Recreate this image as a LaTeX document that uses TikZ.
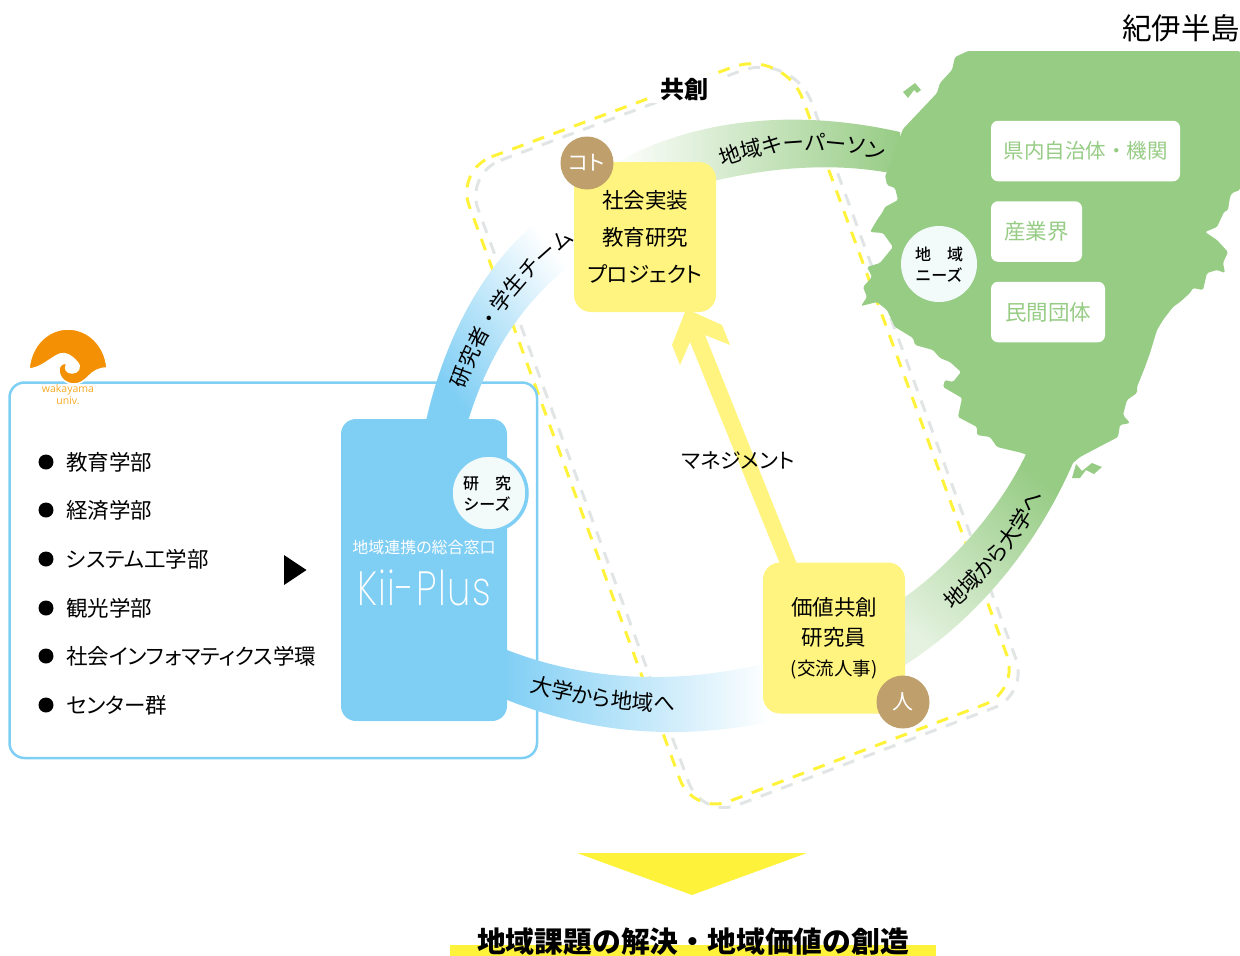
\documentclass[tikz,border=0pt]{standalone}
\usepackage{fontspec}
\setmainfont{Noto Sans CJK JP}[RawFeature=+palt]
\newfontfamily\fullfont{Noto Sans CJK JP}
\newfontfamily\medfont{Noto Sans CJK JP Medium}
\newfontfamily\kiifont{Poppins ExtraLight}[FakeStretch=0.78, LetterSpace=3]
\newfontfamily\logofont{Open Sans}
\usepackage{tikz}
\usetikzlibrary{decorations.text}

\definecolor{kiiblue}{HTML}{7FCEF4}
\definecolor{mapgreen}{HTML}{97CC85}
\definecolor{boxyellow}{HTML}{FFF480}
\definecolor{brightyellow}{HTML}{FFF23A}
\definecolor{loopgray}{HTML}{E1E5E5}
\definecolor{coinbrown}{HTML}{BF9F6B}
\definecolor{seedwhite}{HTML}{F2FAFA}
\definecolor{logoorange}{HTML}{F39003}
\definecolor{logotext}{HTML}{F7A823}

\newcommand{\bandfont}{\fontsize{21.5}{21.5}\selectfont}

\tikzset{
	yellowbox/.style={fill=boxyellow, rounded corners=17pt, minimum width=142pt, inner sep=0pt, align=center},
	coin/.style={circle, fill=coinbrown, minimum size=53pt, inner sep=0pt, text=white, font=\fontsize{21}{21}\selectfont},
	seedcircle/.style={circle, fill=seedwhite, inner sep=0pt, minimum size=76pt},
	seedlabel/.style={inner sep=0pt, align=center, font=\fontsize{16}{21}\medfont},
	mapbox/.style={fill=white, rounded corners=7pt, inner sep=0pt, minimum height=60.5pt, text=mapgreen, font=\fontsize{21.5}{21.5}\selectfont},
	deptdot/.style={circle, fill=black, minimum size=15pt, inner sep=0pt},
	deptlabel/.style={anchor=west, inner sep=0pt, font=\fontsize{21.5}{21.5}\selectfont},
	looppath/.style={line width=3pt, dash pattern=on 12pt off 10pt, rounded corners=38pt},
	bandlabel/.style={decorate, decoration={text along path, text align=center}}
}

\begin{document}
\begin{tikzpicture}[x=1pt, y=-1pt]
	\useasboundingbox (0,0) rectangle (1240,956);
	
	% Dashed co-creation loop
	\draw[looppath, loopgray] (465,173.5) [rounded corners=55pt] -- (793,51.5) [rounded corners=38pt] -- (1029,694.5) -- (702,818.5) -- cycle;
	\draw[looppath, brightyellow] (456,170) [rounded corners=55pt] -- (784,48) [rounded corners=38pt] -- (1020,691) -- (693,815) -- cycle;
	
	% University frame
	\draw[kiiblue, line width=2.5pt, rounded corners=15pt] (9.5,382.5) rectangle (537,758);
	
	% Curved bands
	\shade[left color=kiiblue, middle color=kiiblue!50!white, right color=white, shading angle=130]
	(426,421) .. controls (443,345) and (480,265) .. (545,215) -- (573,263) .. controls (525,300) and (490,350) .. (468,421) -- cycle;
	\shade[left color=white, middle color=mapgreen!80!white, right color=mapgreen]
	(612,165) .. controls (680,125) and (780,105) .. (900,132) -- (900,175) .. controls (840,162) and (770,165) .. (690,187) -- cycle;
	\shade[left color=kiiblue, middle color=kiiblue!55!white, right color=white]
	(507,650) .. controls (590,682) and (680,685) .. (770,662) -- (770,722) .. controls (680,740) and (590,735) .. (500,697) -- cycle;
	\shade[left color=mapgreen!25!white, middle color=mapgreen!70!white, right color=mapgreen, shading angle=140]
	(890,600) -- (905,597) .. controls (950,565) and (1000,510) .. (1027,452) -- (1073,463) .. controls (1035,550) and (975,620) .. (905,665) -- (890,670) -- cycle;
	
	% Peninsula
	\fill[mapgreen, rounded corners=1.5pt] (968,51) -- (1240,51) -- (1240,190) -- (1232,193) -- (1230,197) -- (1228,210) -- (1224,212) -- (1217,227) -- (1205,232) -- (1217,240) -- (1228,252) -- (1223,263) -- (1225,273) -- (1217,270) -- (1207,273) -- (1203,290) -- (1193,288) -- (1190,293) -- (1180,302) -- (1173,307) -- (1163,320) -- (1157,330) -- (1150,353) -- (1145,367) -- (1137,387) -- (1137,393) -- (1127,400) -- (1123,415) -- (1130,423) -- (1120,425) -- (1118,437) -- (1097,448) -- (1080,457) -- (1073,463) -- (1060,470) -- (1027,455) -- (1022,453) -- (997,447) -- (990,437) -- (977,435) -- (977,427) -- (958,417) -- (962,398) -- (943,387) -- (945,380) -- (953,382) -- (961,372) -- (950,362) -- (940,358) -- (933,350) -- (915,345) -- (913,338) -- (895,327) -- (887,310) -- (877,302) -- (861,306) -- (867,297) -- (863,287) -- (872,277) -- (867,267) -- (880,263) -- (893,247) -- (883,233) -- (870,232) -- (877,220) -- (882,213) -- (885,207) -- (898,200) -- (895,188) -- (887,185) -- (885,175) -- (887,173) -- (895,150) -- (903,129) -- (937,93) -- (940,83) -- (952,70) -- (955,57) -- cycle;
	% Small islands
	\fill[mapgreen] (903,92) -- (915,83) -- (921,90) -- (917,93) -- (914,90) -- (908,98) -- cycle;
	\fill[mapgreen] (1072,478) -- (1076,464) -- (1082,471) -- (1092,463) -- (1102,467) -- (1094,474) -- (1086,470) -- (1080,478) -- cycle;
	
	% Yellow arrow
	\fill[boxyellow] (780,564) -- (690,342) -- (680,365) -- (672,345) -- (685,312) -- (693,312) -- (722,325) -- (730,345) -- (705,335) -- (797,564) -- cycle;
	
	% Boxes on the map
	\node[mapbox, minimum width=189pt, font=\fontsize{20.5}{20.5}\fullfont] (prefbox) at (1085.5,151) {県内自治体・機関};
	\node[mapbox, minimum width=91pt] (industrybox) at (1036.5,231.5) {産業界};
	\node[mapbox, minimum width=114pt] (civilbox) at (1048,312) {民間団体};
	\node[seedcircle] (needs) at (939,264) {};
	\node[seedlabel] (needslabel) at (939,265) {地　域\\ニーズ};
	
	% Project and researcher boxes
	\node[yellowbox, minimum height=150pt, font=\fontsize{21.5}{37}\selectfont] (project) at (645,237) {社会実装\\教育研究\\プロジェクト};
	\node[yellowbox, minimum height=151pt, font=\fontsize{21.5}{30}\selectfont] (researcher) at (834,638) {価値共創\\研究員\\{\fontsize{18.5}{33}\selectfont (交流人事)}};
	\node[coin] (koto) at (587,163) {コト};
	\node[coin] (hito) at (903,702) {人};
	
	% Kii-Plus window
	\node[fill=kiiblue, rounded corners=15pt, minimum width=166pt, minimum height=302pt, inner sep=0pt] (kiibox) at (424,570) {};
	\node[seedcircle, draw=kiiblue, line width=3.5pt] (seeds) at (489,493) {};
	\node[seedlabel] (seedslabel) at (487,494) {研　究\\シーズ};
	\node[text=white, inner sep=0pt, font=\fontsize{16}{16}\selectfont] (window) at (424,547) {地域連携の総合窓口};
	\node[text=white, inner sep=0pt, font=\fontsize{48}{48}\kiifont] (kiiplus) at (424,588) {Kii-Plus};
	\fill[black] (284,555) -- (306.5,570) -- (284,585) -- cycle;
	
	% Department list
	\node[deptdot] (dot1) at (46,462) {};
	\node[deptdot] (dot2) at (46,510) {};
	\node[deptdot] (dot3) at (46,559) {};
	\node[deptdot] (dot4) at (46,608) {};
	\node[deptdot] (dot5) at (46,656) {};
	\node[deptdot] (dot6) at (46,705) {};
	\node[deptlabel] (dept1) at (66,462) {教育学部};
	\node[deptlabel] (dept2) at (66,510) {経済学部};
	\node[deptlabel] (dept3) at (66,559) {システム工学部};
	\node[deptlabel] (dept4) at (66,608) {観光学部};
	\node[deptlabel] (dept5) at (66,656) {社会インフォマティクス学環};
	\node[deptlabel] (dept6) at (66,705) {センター群};
	
	% University logo
	\draw[white, line width=1.5pt, fill=logoorange] (29,369) .. controls (31,345) and (48,329) .. (68,329) .. controls (88,329) and (105,345) .. (107,368) .. controls (98,368) and (93,372) .. (89,376) .. controls (84,381) and (80,384) .. (74,384) .. controls (66,384) and (59,378) .. (59,370) .. controls (59,365) and (63,362) .. (67,364) .. controls (64,368) and (66,373) .. (72,373) .. controls (78,373) and (82,367) .. (77,362) .. controls (72,356) and (66,352) .. (60,354) .. controls (50,358) and (42,368) .. (29,369) -- cycle;
	\node[text=logotext, inner sep=0pt, font=\fontsize{10.5}{10.5}\logofont] (logoname) at (68,390) {wakayama};
	\node[text=logotext, inner sep=0pt, font=\fontsize{10.5}{10.5}\logofont] (logouniv) at (68,401) {univ.};
	
	% Band labels
	\path[bandlabel, decoration={text={|\fontsize{21}{21}\fullfont|研究者・学生チーム}}] (467,384) .. controls (486,330) and (518,282) .. (570,243);
	\path[bandlabel, decoration={text={|\bandfont|地域キーパーソン}}] (721,167) .. controls (769,147) and (839,144) .. (883,162);
	\path[bandlabel, decoration={text={|\bandfont|大学から地域へ}}] (528,691) .. controls (570,703) and (620,710) .. (676,712);
	\path[bandlabel, decoration={text={|\bandfont|地域から大学へ}}] (955,608) .. controls (983,585) and (1023,540) .. (1042,498);
	
	% Free labels
	\node[inner sep=0pt, font=\fontsize{21}{21}\selectfont] (manage) at (738,461) {マネジメント};
	\node[fill=white, inner xsep=12pt, inner ysep=3pt, font=\fontsize{24}{24}\bfseries] (cocreate) at (684,89) {共創};
	\node[anchor=east, inner sep=0pt, font=\fontsize{29.5}{29.5}\selectfont] (kiilabel) at (1240.5,28) {紀伊半島};
	
	% Conclusion
	\fill[brightyellow] (577,853) -- (807,853) -- (692,895) -- cycle;
	\fill[brightyellow] (450,945) rectangle (936,956);
	\node[inner sep=0pt, font=\fontsize{28.8}{28.8}\fullfont\bfseries] (goal) at (693,942) {地域課題の解決・地域価値の創造};
\end{tikzpicture}
\end{document}
